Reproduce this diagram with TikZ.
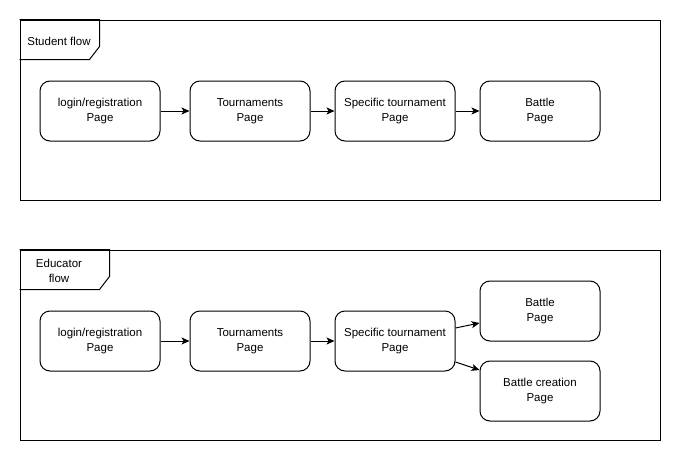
\documentclass[tikz,border=0pt]{standalone}
\usepackage{fontspec}
\setmainfont{Liberation Sans}
\usetikzlibrary{arrows.meta,positioning,calc}
\begin{document}
\begin{tikzpicture}[x=1pt,y=-1pt,line width=1pt,
  page/.style={draw,rounded corners=10pt,minimum width=120pt,minimum height=60pt,align=center,font=\fontsize{11.5}{15}\selectfont,inner sep=0pt},
  frame/.style={draw},
  arr/.style={-{Stealth[length=8pt,width=7pt,inset=2pt]},line width=1pt},
  lbl/.style={font=\fontsize{11.5}{15}\selectfont,align=center,inner sep=0pt}]
\useasboundingbox (0,0) rectangle (681,461);
% student frame
\node[frame,minimum width=640pt,minimum height=180pt,inner sep=0pt] (sf) at (340,110) {};
\draw (sf.north west) -- ++(80,0) -- ++(0,27) -- ++(-10,13) -- ++(-70,0);
\node[lbl] (sflbl) at (59,41) {Student flow};
\node[page] (s1) at (100,111) {login/registration\\Page};
\node[page] (s2) at (250,111) {Tournaments\\Page};
\node[page] (s3) at (395,111) {Specific tournament\\Page};
\node[page] (s4) at (540,111) {Battle\\Page};
\draw[arr] (s1) -- (s2);
\draw[arr] (s2) -- (s3);
\draw[arr] (s3) -- (s4);
% educator frame
\node[frame,minimum width=640pt,minimum height=190pt,inner sep=0pt] (ef) at (340,345) {};
\draw (ef.north west) -- ++(90,0) -- ++(0,27) -- ++(-10,13) -- ++(-80,0);
\node[lbl] (eflbl) at (59,271) {Educator\\flow};
\node[page] (e1) at (100,341) {login/registration\\Page};
\node[page] (e2) at (250,341) {Tournaments\\Page};
\node[page] (e3) at (395,341) {Specific tournament\\Page};
\node[page] (e4) at (540,311) {Battle\\Page};
\node[page] (e5) at (540,391) {Battle creation\\Page};
\draw[arr] (e1) -- (e2);
\draw[arr] (e2) -- (e3);
\draw[arr] ([yshift=13pt]e3.east) -- ([yshift=-12pt]e4.west);
\draw[arr] ([yshift=-21pt]e3.east) -- ([yshift=21pt]e5.west);
\end{tikzpicture}
\end{document}
